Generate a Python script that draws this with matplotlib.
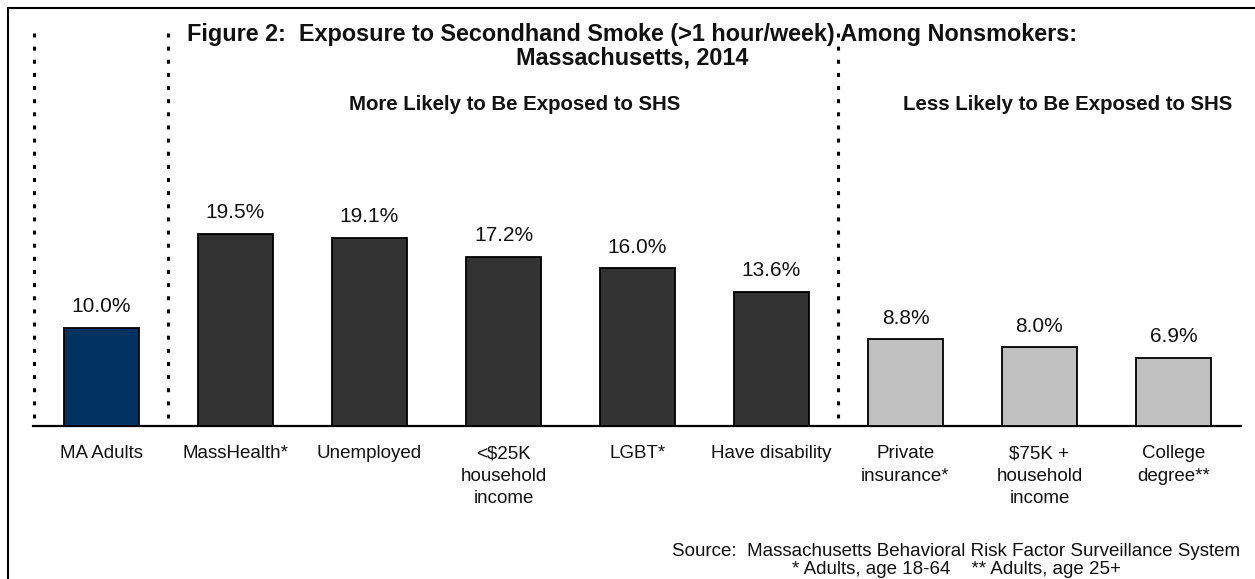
import matplotlib
matplotlib.use("Agg")
import matplotlib.pyplot as plt

plt.rcParams['font.family'] = ['Liberation Sans', 'DejaVu Sans']

categories = ["MA Adults", "MassHealth*", "Unemployed", "<$25K\nhousehold\nincome",
              "LGBT*", "Have disability", "Private\ninsurance*", "$75K +\nhousehold\nincome",
              "College\ndegree**"]
values = [10.0, 19.5, 19.1, 17.2, 16.0, 13.6, 8.8, 8.0, 6.9]
groups = ["overall", "more", "more", "more", "more", "more", "less", "less", "less"]
group_colors = {"overall": "#003262", "more": "#333333", "less": "#C0C0C0"}

W, H = 1255, 579
fig = plt.figure(figsize=(W / 100, H / 100), dpi=100)

# axes in pixel layout
left_px, right_px, base_px, top_px = 33, 1241, 426, 33
ax = fig.add_axes([left_px / W, (H - base_px) / H, (right_px - left_px) / W, (base_px - top_px) / H])
ax.set_xlim(-0.511, 8.504)
ax.set_ylim(0, 39.9)

x = list(range(len(values)))
ax.bar(x, values, width=0.56, color=[group_colors[g] for g in groups],
       edgecolor="black", linewidth=1.3, zorder=3)

for xi, v in zip(x, values):
    ax.text(xi, v + 2.15, f"{v:.1f}%", ha="center", va="center", fontsize=15, color="#111111")

for s in ["top", "right", "left"]:
    ax.spines[s].set_visible(False)
ax.spines["bottom"].set_linewidth(1.6)
ax.set_yticks([])
ax.set_xticks(x)
ax.set_xticklabels(categories, fontsize=13.5, linespacing=1.4, color="#111111")
ax.tick_params(axis="x", length=0, pad=14)

# dotted group separators
for xs in [-0.5, 0.5, 5.5]:
    ax.plot([xs, xs], [39.9, 0], color="black", lw=2.2, linestyle=(0, (1.3, 3.0)),
            dash_capstyle="butt", clip_on=False, zorder=2)

# titles
fig.text(632 / W, 1 - 34 / H, "Figure 2:  Exposure to Secondhand Smoke (>1 hour/week) Among Nonsmokers:",
         ha="center", va="center", fontsize=16.8, fontweight="bold", color="#111111")
fig.text(632 / W, 1 - 58 / H, "Massachusetts, 2014", ha="center", va="center",
         fontsize=16.8, fontweight="bold", color="#111111")
fig.text(515 / W, 1 - 105 / H, "More Likely to Be Exposed to SHS", ha="center", va="center",
         fontsize=14.7, fontweight="bold", color="#111111")
fig.text(1068 / W, 1 - 105 / H, "Less Likely to Be Exposed to SHS", ha="center", va="center",
         fontsize=14.7, fontweight="bold", color="#111111")

fig.text(956 / W, 1 - 551 / H, "Source:  Massachusetts Behavioral Risk Factor Surveillance System",
         ha="center", va="center", fontsize=13.5, color="#111111")
fig.text(956 / W, 1 - 570 / H, "* Adults, age 18-64    ** Adults, age 25+",
         ha="center", va="center", fontsize=13.5, color="#111111")

# outer frame lines (left and top)
fig.add_artist(plt.Line2D([8 / W, 8 / W], [0, 1 - 8 / H], transform=fig.transFigure, color="black", lw=1.5))
fig.add_artist(plt.Line2D([8 / W, 1], [1 - 8 / H, 1 - 8 / H], transform=fig.transFigure, color="black", lw=1.5))

fig.savefig("out.png", dpi=100, facecolor="white")
